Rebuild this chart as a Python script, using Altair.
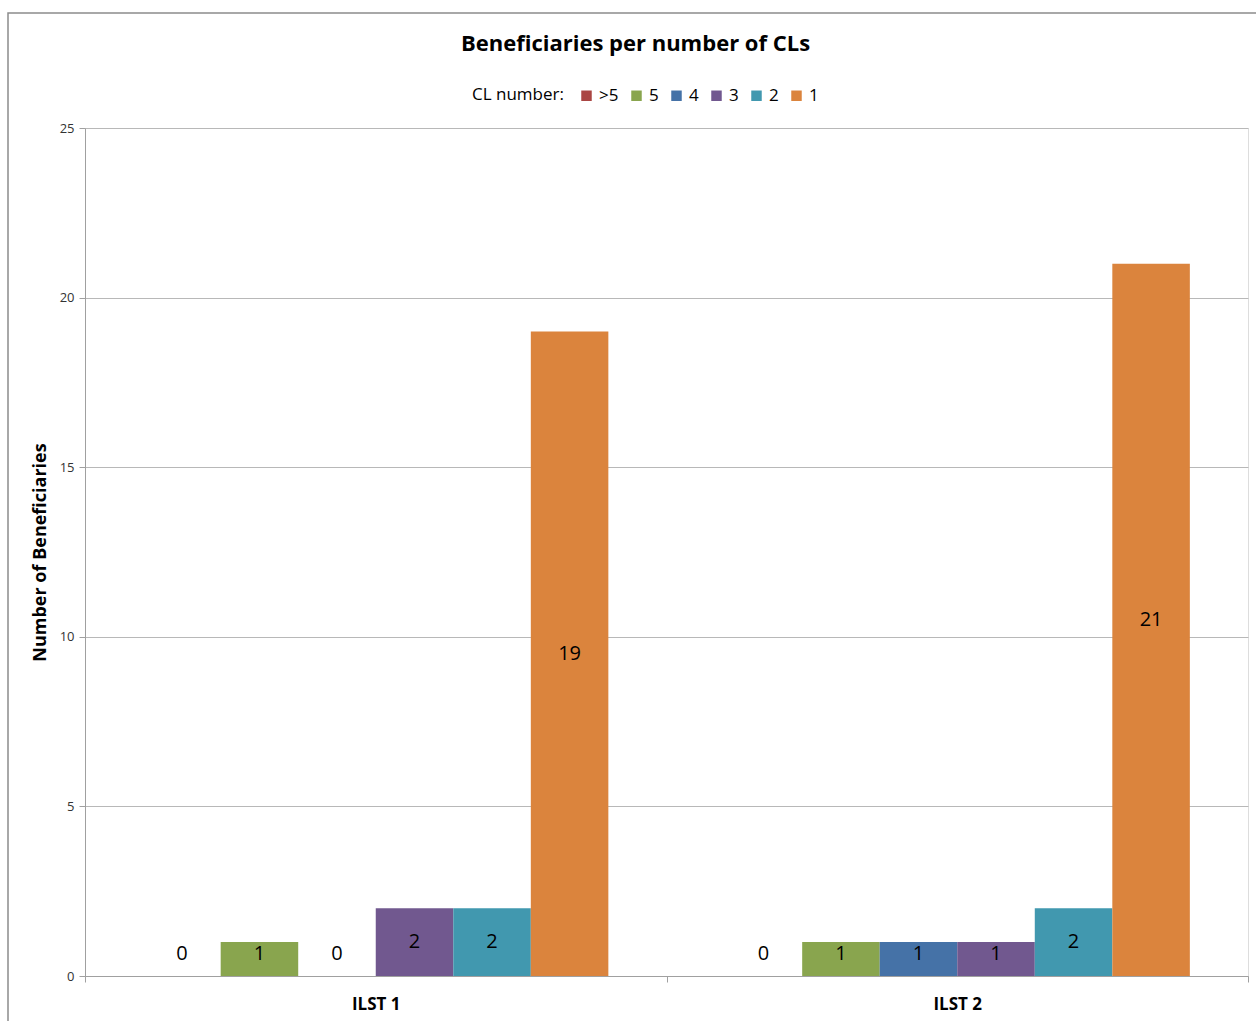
import altair as alt
import pandas as pd

groups = ["ILST 1", "ILST 2"]
cl_numbers = [">5", "5", "4", "3", "2", "1"]
ilst1_values = [0, 1, 0, 2, 2, 19]
ilst2_values = [0, 1, 1, 1, 2, 21]
colors = ["#AA4643", "#89A54E", "#4572A7", "#71588F", "#4198AF", "#DB843D"]
y_ticks = [0, 5, 10, 15, 20, 25]

rows = []
for g, vals in zip(groups, [ilst1_values, ilst2_values]):
    for cl, v in zip(cl_numbers, vals):
        rows.append({"group": g, "cl": cl, "value": v})
df = pd.DataFrame(rows)

FONT = "Open Sans"

x_enc = alt.X(
    "group:N",
    sort=groups,
    scale=alt.Scale(paddingInner=0, paddingOuter=0),
    axis=alt.Axis(
        title=None,
        labelAngle=0,
        labelFontWeight="bold",
        labelFontSize=17,
        labelColor="#000000",
        labelFont=FONT,
        labelPadding=14,
        tickBand="extent",
        tickSize=6,
        tickColor="#a0a0a0",
        domainColor="#a0a0a0",
        grid=False,
    ),
)
xoff_enc = alt.XOffset(
    "cl:N", sort=cl_numbers, scale=alt.Scale(paddingInner=0, paddingOuter=0.75)
)

base = alt.Chart(df)

bars = base.mark_bar().encode(
    x=x_enc,
    xOffset=xoff_enc,
    y=alt.Y(
        "value:Q",
        scale=alt.Scale(domain=[0, 25], nice=False),
        axis=alt.Axis(
            title="Number of Beneficiaries",
            titleFontSize=18,
            titleFontWeight="bold",
            titleFont=FONT,
            titleColor="#000000",
            titlePadding=10,
            values=y_ticks,
            labelFontSize=13,
            labelFont=FONT,
            labelColor="#333333",
            labelPadding=5,
            tickSize=6,
            tickColor="#a0a0a0",
            domainColor="#a0a0a0",
            gridColor="#b8b8b8",
        ),
    ),
    color=alt.Color(
        "cl:N",
        sort=cl_numbers,
        scale=alt.Scale(domain=cl_numbers, range=colors),
        legend=alt.Legend(
            title="CL number:",
            orient="none",
            direction="horizontal",
            titleOrient="left",
            legendX=387,
            legendY=-41,
            titleFontSize=17,
            titleFontWeight="normal",
            titleFont=FONT,
            titleColor="#000000",
            titlePadding=14,
            labelFontSize=17,
            labelFont=FONT,
            labelColor="#000000",
            symbolType="square",
            symbolSize=110,
            symbolStrokeWidth=0,
            columnPadding=9,
            labelOffset=4,
        ),
    ),
)

text = base.transform_calculate(ly="max(datum.value / 2, 0.65)").mark_text(
    fontSize=20, font=FONT, color="#000000", baseline="middle"
).encode(
    x=x_enc,
    xOffset=xoff_enc,
    y=alt.Y("ly:Q"),
    text=alt.Text("value:Q"),
)

frame = alt.Chart(pd.DataFrame({"k": [0]})).mark_rect(
    fillOpacity=0, stroke="#8c8c8c", strokeWidth=1.5
).encode(
    x=alt.value(-77), x2=alt.value(1180), y=alt.value(-115), y2=alt.value(900)
)

chart = (
    alt.layer(frame, bars, text)
    .properties(
        width=1163,
        height=848,
        title=alt.TitleParams(
            "Beneficiaries per number of CLs",
            fontSize=22,
            font=FONT,
            fontWeight="bold",
            color="#000000",
            anchor="middle",
            dx=-31,
            offset=0,
            dy=44,
        ),
        autosize=alt.AutoSizeParams(type="none"),
        padding={"left": 85, "top": 128, "right": 8, "bottom": 45},
    )
    .configure_view(stroke=None)
    .configure(background="white")
)

chart.save("out.html", embed_options={"renderer": "svg", "actions": False})
